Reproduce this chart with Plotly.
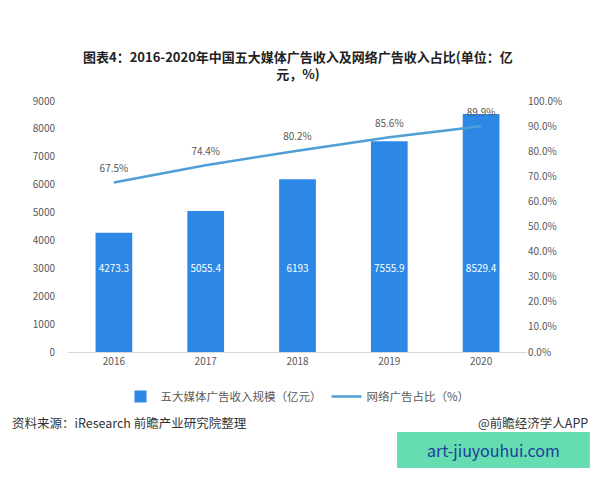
import plotly.graph_objects as go

years = ["2016", "2017", "2018", "2019", "2020"]
revenue = [4273.3, 5055.4, 6193, 7555.9, 8529.4]
share = [67.5, 74.4, 80.2, 85.6, 89.9]
left_ticks = [0, 1000, 2000, 3000, 4000, 5000, 6000, 7000, 8000, 9000]
right_ticks = [0, 10, 20, 30, 40, 50, 60, 70, 80, 90, 100]

FONT = "Noto Sans CJK SC, Noto Sans, sans-serif"
BAR = "#2c88e4"
LINE = "#4f9fd6"
GRAY = "#595959"
LABEL_LEVEL = 2950
PCT_LABEL_SHIFT = 3.2

fig = go.Figure()
fig.add_trace(go.Bar(
    x=years, y=revenue, name="五大媒体广告收入规模（亿元）",
    marker=dict(color=BAR, line=dict(width=0)), width=0.4,
))
fig.add_trace(go.Scatter(
    x=years, y=[LABEL_LEVEL] * len(years), mode="text", showlegend=False,
    text=[f"{v:g}" for v in revenue], textposition="middle center",
    textfont=dict(size=10, color="white", family=FONT), hoverinfo="skip",
))
fig.add_trace(go.Scatter(
    x=years, y=share, name="网络广告占比（%）", yaxis="y2",
    mode="lines", line=dict(color=LINE, width=2.5),
))
fig.add_trace(go.Scatter(
    x=years, y=[v + PCT_LABEL_SHIFT for v in share], yaxis="y2", mode="text",
    showlegend=False, hoverinfo="skip",
    text=[f"{v:.1f}%" for v in share], textposition="top center",
    textfont=dict(size=10, color=GRAY, family=FONT),
))

annotations = [
    dict(x=0.5, y=1.143, xref="paper", yref="paper", xanchor="center", yanchor="middle",
         text="<b>图表4：2016-2020年中国五大媒体广告收入及网络广告收入占比(单位：亿</b><br><b>元，%)</b>",
         showarrow=False, align="center", font=dict(size=13, color="#222", family=FONT)),
    dict(x=-0.126, y=-0.279, xref="paper", yref="paper", xanchor="left", yanchor="middle",
         text="资料来源：iResearch 前瞻产业研究院整理", showarrow=False,
         font=dict(size=12.5, color="#333", family=FONT)),
    dict(x=1.137, y=-0.279, xref="paper", yref="paper", xanchor="right", yanchor="middle",
         text="@前瞻经济学人APP", showarrow=False,
         font=dict(size=12.5, color="#333", family=FONT)),
    dict(x=0.927, y=-0.39, xref="paper", yref="paper", xanchor="center", yanchor="middle",
         text="art-jiuyouhui.com", showarrow=False,
         font=dict(size=16, color="#1a3f9a", family=FONT)),
]

fig.update_layout(
    width=600, height=480,
    margin=dict(l=68, r=73, t=101, b=128),
    paper_bgcolor="white", plot_bgcolor="white",
    font=dict(family=FONT, color=GRAY, size=10),
    showlegend=True,
    legend=dict(orientation="h", x=0.5, xanchor="center", y=-0.12, yanchor="top",
                font=dict(size=11.5, color=GRAY, family=FONT)),
    xaxis=dict(type="category", showgrid=False, showline=True, linecolor="#d9d9d9", ticks="",
               tickfont=dict(size=10, color=GRAY)),
    yaxis=dict(range=[0, 9000], tickvals=left_ticks, showgrid=False, zeroline=False,
               showline=False, tickfont=dict(size=10, color=GRAY), ticklabelstandoff=12),
    yaxis2=dict(range=[0, 100], tickvals=right_ticks, overlaying="y", side="right",
                ticktext=[f"{t:.1f}%" for t in right_ticks], tickmode="array",
                showgrid=False, zeroline=False, showline=False,
                tickfont=dict(size=10, color=GRAY)),
    annotations=annotations,
    shapes=[dict(type="rect", xref="paper", yref="paper", x0=0.717, x1=1.137, y0=-0.462, y1=-0.319,
                 fillcolor="#66dcb1", line=dict(width=0), layer="below")],
)

fig.write_html("out.html")
